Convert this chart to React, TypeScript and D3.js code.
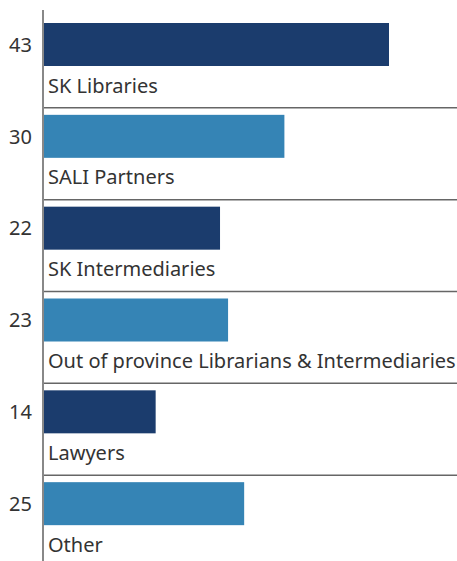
import React from "react";
import * as d3 from "d3";

const categories = [
  "SK Libraries",
  "SALI Partners",
  "SK Intermediaries",
  "Out of province Librarians & Intermediaries",
  "Lawyers",
  "Other",
];
const values = [43, 30, 22, 23, 14, 25];
const colors = ["#1b3c6d", "#3584b5", "#1b3c6d", "#3584b5", "#1b3c6d", "#3584b5"];

const W = 457;
const H = 561;

export default function App() {
  const x = d3.scaleLinear().domain([0, 43]).range([43, 389]);
  const y = d3.scaleBand<string>().domain(categories).range([16, 567]);
  const bw = y.bandwidth();
  const font = "'Noto Sans', sans-serif";
  return (
    <svg
      width={W}
      height={H}
      style={{ position: "fixed", top: 0, left: 0, display: "block", background: "#fff" }}
    >
      {categories.map((c, i) => {
        const y0 = y(c)!;
        const barTop = y0 + 7;
        const barH = 43;
        return (
          <g key={c}>
            <rect
              x={x(0)}
              y={barTop}
              width={x(values[i]) - x(0)}
              height={barH}
              fill={colors[i]}
            />
            <text
              x={32}
              y={barTop + barH / 2}
              dy="0.36em"
              textAnchor="end"
              fontFamily={font}
              fontSize={20}
              fill="#333"
            >
              {values[i]}
            </text>
            <text
              x={48}
              y={barTop + barH + 26.5}
              fontFamily={font}
              fontSize={20}
              fill="#333"
            >
              {c}
            </text>
            {i < categories.length - 1 && (
              <line
                x1={x(0)}
                x2={W}
                y1={y0 + bw}
                y2={y0 + bw}
                stroke="#666"
                strokeWidth={1.5}
              />
            )}
          </g>
        );
      })}
      <line x1={x(0)} x2={x(0)} y1={10} y2={H} stroke="#888" strokeWidth={2} />
    </svg>
  );
}
